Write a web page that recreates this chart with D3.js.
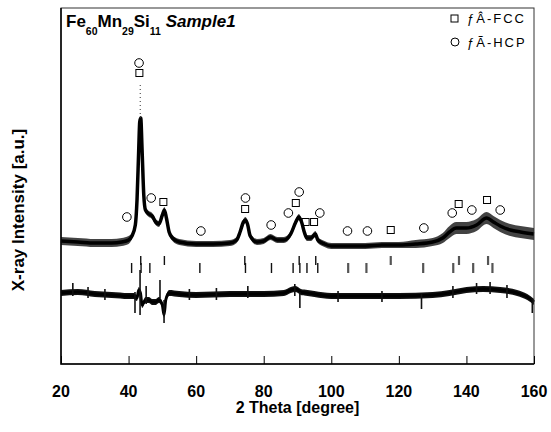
<!DOCTYPE html>
<html>
<head>
    <meta charset="utf-8">
    <script src="https://d3js.org/d3.v7.min.js"></script>
    <style type="text/css">
        body { margin: 0; background: #fff; }
        svg { display: block; font-family: "Liberation Sans", Arial, sans-serif; }
    </style>
</head>
<body>
<script type="text/javascript">
    //// data (2 theta in degree, intensity in a.u.)
    var obsTheta = [20,25,30,35,38,40,41,42,42.5,43,43.3,43.6,44,44.5,45,46,47,48,49,50,
                    50.6,51.2,52,53,55,60,65,70,72,73,74,74.6,75.2,76,78,80,82,84,86,88,
                    89.5,90.4,91.2,92,92.8,94,95.3,96,98,100,105,110,115,120,125,130,133,135,137,140,
                    143,146,148,150,153,156,160];
    var obsInt = [123,122,121,121,122,124,128,139,164,214,242,246,214,169,154,150,148,142,140,149,
                  154,146,132,126,122,120,120,121,124,132,142,144,140,128,122,123,127,124,124,130,
                  142,147,142,132,126,126,130,124,120,118,118,118,119,119,120,122,126,132,136,136,
                  139,146,142,138,134,132,130];
    var obsSpread = [4,4,4,4,4,4,3,3,2,2,2,2,2,2,3,3,3,3,3,3,
                     3,3,3,3,3,3,3,3,3,3,3,3,3,3,3,3,3,3,3,3,
                     3,3,3,3,3,3,3,3,3,3,3,3,3,3,4,4,5,6,6,6,
                     6,6,6,6,6,6,6];
    // sparse points above the strongest peak
    var peakTail = [43.45, 246, 281];

    var diffTheta = [20,25,30,35,40,41.5,42.5,43,43.5,44,45,46,47,48,49,50,50.5,51,52,55,
                     60,70,80,86,88,89.5,91,93,95,100,110,120,130,135,140,145,150,155,158,160];
    var diffInt = [71,72,70,69,68,68,66,74,71,59,64,64,62,62,64,59,49,64,71,70,
                   69,70,70,71,74,75,72,71,70,68,68,68,69,71,74,75,74,71,67,62];
    var diffSpikes = [[23.5,68,81],[28,66,77],[33,64,75],[41.9,51,72],[43.4,49,94],[45.2,60,78],
                      [49.3,66,84],[50.5,41,64],[58,64,75],[66,64,76],[75.3,66,78],[89.2,68,80],
                      [90.7,56,72],[102,62,73],[115,62,73],[126.7,55,70],[136,66,78],[143,70,81],
                      [147,70,82],[152,66,79],[159.5,51,66]];

    var fccTicks = [43.6, 50.6, 74.4, 90.5, 95.4, 117.6, 137.8, 146.4];
    var hcpTicks = [40.9, 43.7, 46.3, 61.1, 74.6, 82.3, 88.7, 90.7, 92.8, 96.0,
                    105.0, 110.4, 127.2, 136.1, 142.0, 147.7];

    var fccMarkTheta = [43.2, 50.3, 74.5, 89.5, 92.4, 94.9, 117.6, 137.7, 146.1];
    var fccMarkInt = [291, 162, 155, 161, 142, 142, 134, 160, 164];
    var hcpMarkTheta = [39.5, 43.1, 46.7, 61.4, 74.6, 82.2, 87.3, 90.5, 96.6,
                        104.8, 110.7, 127.4, 135.8, 141.6, 150.0];
    var hcpMarkInt = [147, 301, 166, 133, 166, 139, 151, 172, 151, 133, 133, 136, 151, 154, 154];

    var xTicks = [20, 40, 60, 80, 100, 120, 140, 160];
    var legendLabels = ["ƒÂ-FCC", "ƒÃ-HCP"];

    //// drawing
    var W = 551, H = 432;
    var pL = 61, pR = 534, pT = 8, pB = 364;

    var svg = d3.select("body").append("svg").attr("width", W).attr("height", H);

    var x = d3.scaleLinear().domain([20, 160]).range([pL, pR]);
    var y = d3.scaleLinear().domain([0, 356]).range([pB, pT]);

    // observed pattern: a speckled band plus its mean line
    var obs = obsTheta.map(function(t, i) { return {t: t, v: obsInt[i], s: obsSpread[i]}; });
    var band = d3.area()
        .x(function(d) { return x(d.t); })
        .y0(function(d) { return y(d.v - d.s); })
        .y1(function(d) { return y(d.v + d.s); })
        .curve(d3.curveMonotoneX);
    var mean = d3.line()
        .x(function(d) { return x(d.t); })
        .y(function(d) { return y(d.v); })
        .curve(d3.curveMonotoneX);
    svg.append("path").datum(obs).attr("d", band).attr("fill", "#222").attr("opacity", 0.85);
    svg.append("path").datum(obs).attr("d", mean)
        .attr("fill", "none").attr("stroke", "#000").attr("stroke-width", 3.5);

    svg.append("line")
        .attr("x1", x(peakTail[0])).attr("x2", x(peakTail[0]))
        .attr("y1", y(peakTail[1])).attr("y2", y(peakTail[2]))
        .attr("stroke", "#333").attr("stroke-width", 1)
        .attr("stroke-dasharray", "1,3");

    // difference curve
    var diff = diffTheta.map(function(t, i) { return {t: t, v: diffInt[i], s: 3}; });
    svg.append("path").datum(diff).attr("d", band).attr("fill", "#111");
    svg.append("path").datum(diff).attr("d", mean)
        .attr("fill", "none").attr("stroke", "#000").attr("stroke-width", 3);
    svg.selectAll(".spike").data(diffSpikes).enter().append("line")
        .attr("x1", function(d) { return x(d[0]); })
        .attr("x2", function(d) { return x(d[0]); })
        .attr("y1", function(d) { return y(d[1]); })
        .attr("y2", function(d) { return y(d[2]); })
        .attr("stroke", "#111").attr("stroke-width", 1.6);

    // Bragg position ticks, two rows
    function tickRow(list, lo, hi) {
        svg.append("g").selectAll("line").data(list).enter().append("line")
            .attr("x1", function(d) { return x(d); })
            .attr("x2", function(d) { return x(d); })
            .attr("y1", y(lo)).attr("y2", y(hi))
            .attr("stroke", function(d) { return d > 100 ? "#555" : "#111"; })
            .attr("stroke-width", function(d) { return d > 100 ? 2.2 : 1.4; });
    }
    tickRow(fccTicks, 99, 108);
    tickRow(hcpTicks, 91, 101);

    // peak markers
    svg.append("g").selectAll("rect").data(fccMarkTheta).enter().append("rect")
        .attr("x", function(d) { return x(d) - 3.5; })
        .attr("y", function(d, i) { return y(fccMarkInt[i]) - 3.5; })
        .attr("width", 7).attr("height", 7)
        .attr("fill", "none").attr("stroke", "#000").attr("stroke-width", 1);
    svg.append("g").selectAll("circle").data(hcpMarkTheta).enter().append("circle")
        .attr("cx", function(d) { return x(d); })
        .attr("cy", function(d, i) { return y(hcpMarkInt[i]); })
        .attr("r", 4.3)
        .attr("fill", "none").attr("stroke", "#000").attr("stroke-width", 1);

    // frame
    svg.append("rect")
        .attr("x", pL).attr("y", pT)
        .attr("width", pR - pL).attr("height", pB - pT)
        .attr("fill", "none").attr("stroke", "#333").attr("stroke-width", 1);
    svg.append("path")
        .attr("d", "M" + pL + "," + pT + "V" + pB + "H" + pR)
        .attr("fill", "none").attr("stroke", "#000").attr("stroke-width", 1.5);

    // x axis ticks (inward) and labels
    var xAxis = d3.axisBottom(x).tickValues(xTicks).tickSizeInner(-8).tickSizeOuter(0).tickFormat("");
    var ax = svg.append("g").attr("transform", "translate(0," + pB + ")").call(xAxis);
    ax.select(".domain").remove();
    ax.selectAll("line").attr("stroke", "#000");

    svg.append("g").selectAll("text").data(xTicks).enter().append("text")
        .attr("x", function(d) { return x(d); })
        .attr("y", 397)
        .attr("text-anchor", "middle")
        .style("font-size", "16px").style("font-weight", "bold")
        .text(function(d) { return d; });

    svg.append("text")
        .attr("x", (pL + pR) / 2).attr("y", 413)
        .attr("text-anchor", "middle")
        .style("font-size", "16px").style("font-weight", "bold")
        .text("2 Theta [degree]");

    svg.append("text")
        .attr("transform", "translate(24,210) rotate(-90)")
        .attr("text-anchor", "middle")
        .style("font-size", "17px").style("font-weight", "bold")
        .text("X-ray Intensity [a.u.]");

    // title with subscripts
    var title = svg.append("text").attr("x", 66).attr("y", 27)
        .style("font-size", "17px").style("font-weight", "bold");
    [["Fe", 0], ["60", 1], ["Mn", 0], ["29", 1], ["Si", 0], ["11", 1]].forEach(function(p, i) {
        var ts = title.append("tspan").text(p[0]);
        if (p[1]) ts.attr("dy", 8).style("font-size", "10.5px");
        else if (i > 0) ts.attr("dy", -8);
    });
    title.append("tspan").attr("dy", -8).text(" Sample1").style("font-style", "italic");

    // legend
    var lg = svg.append("g");
    lg.append("rect").attr("x", 451).attr("y", 15).attr("width", 7).attr("height", 7)
        .attr("fill", "none").attr("stroke", "#000");
    lg.append("circle").attr("cx", 455).attr("cy", 42).attr("r", 4)
        .attr("fill", "none").attr("stroke", "#000");
    lg.selectAll("text").data(legendLabels).enter().append("text")
        .attr("x", 467)
        .attr("y", function(d, i) { return 23 + i * 24; })
        .style("font-size", "13px").style("letter-spacing", "2px")
        .text(function(d) { return d; });
</script>
</body>
</html>
